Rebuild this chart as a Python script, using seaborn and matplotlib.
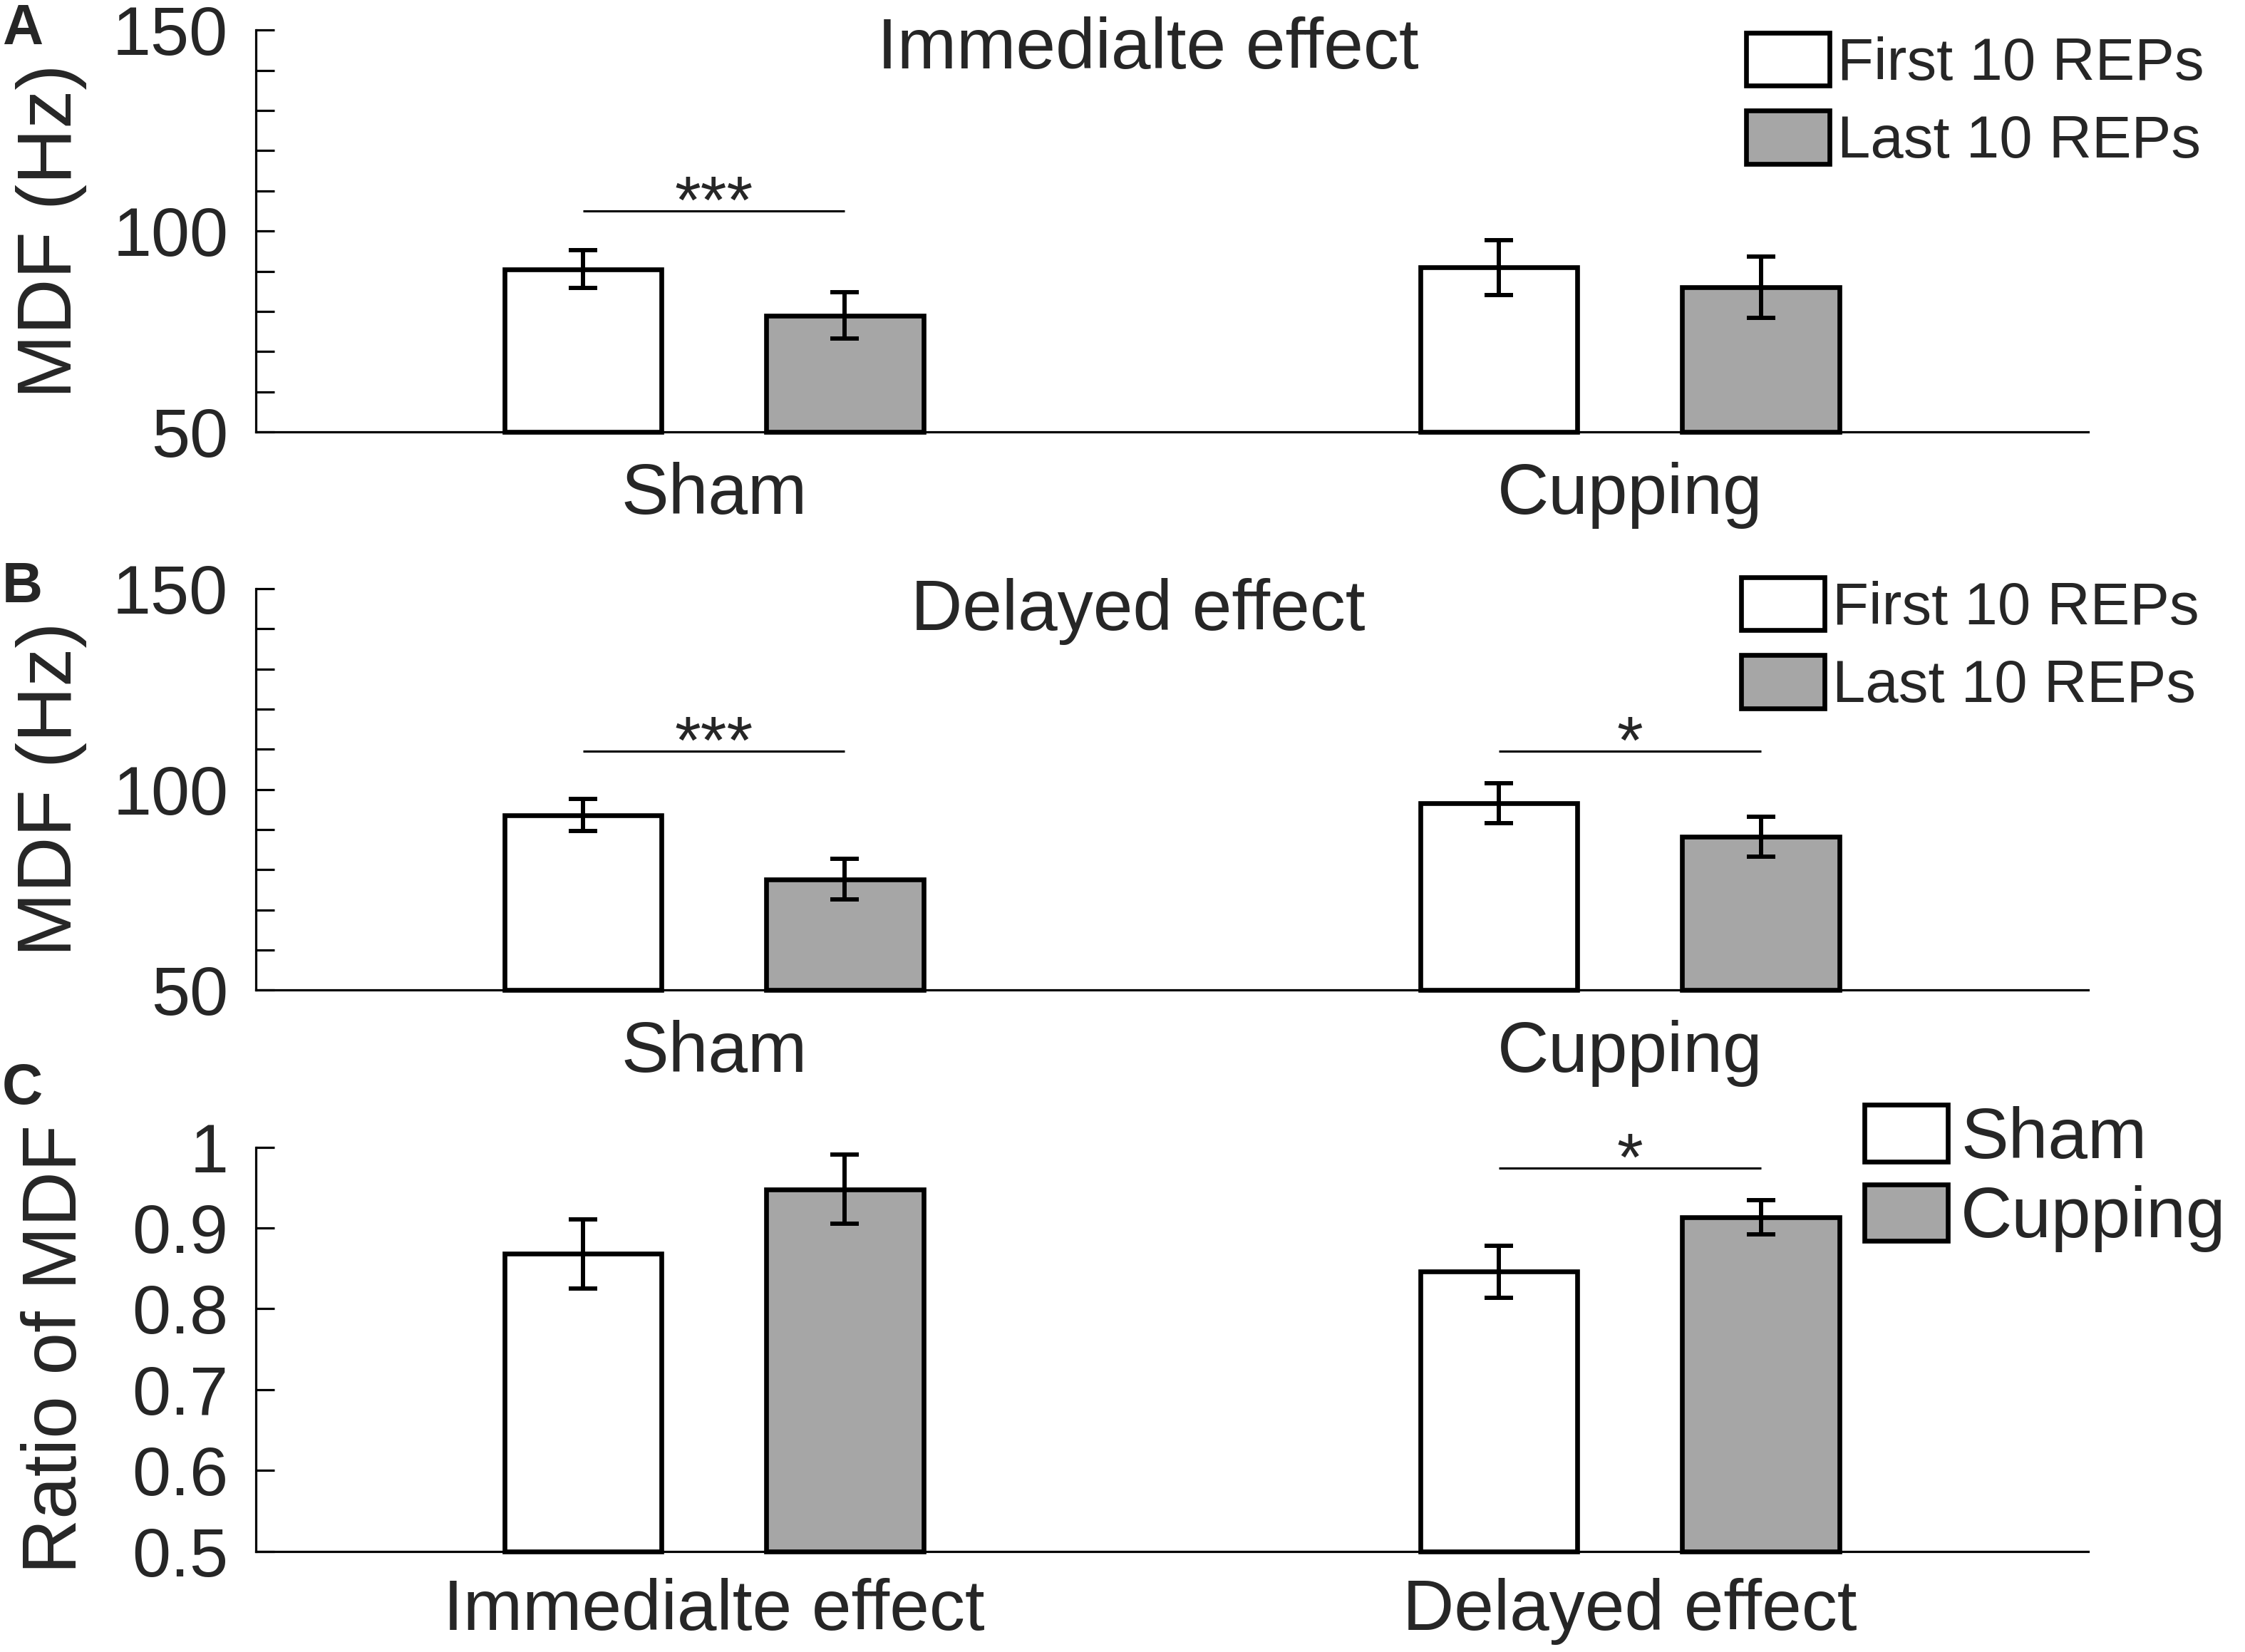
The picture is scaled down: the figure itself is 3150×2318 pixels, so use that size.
import numpy as np
import pandas as pd
import matplotlib
matplotlib.use("Agg")
import matplotlib.pyplot as plt
from matplotlib.ticker import MultipleLocator, FixedLocator
import seaborn as sns

# ---------------- data ----------------
groups_ab = ["Sham", "Cupping"]
conds_ab = ["First 10 REPs", "Last 10 REPs"]

imm_first_mean = [90.5, 90.9]
imm_first_err = [4.7, 6.9]
imm_last_mean = [79.0, 86.0]
imm_last_err = [5.8, 7.6]

del_first_mean = [93.6, 96.5]
del_first_err = [4.0, 5.0]
del_last_mean = [77.6, 88.2]
del_last_err = [5.1, 4.9]

groups_c = ["Immedialte effect", "Delayed effect"]
conds_c = ["Sham", "Cupping"]
ratio_sham_mean = [0.868, 0.846]
ratio_sham_err = [0.043, 0.032]
ratio_cup_mean = [0.948, 0.913]
ratio_cup_err = [0.043, 0.021]

sig_a = [("Sham", 105.0, "***")]
sig_b = [("Sham", 109.5, "***"), ("Cupping", 109.5, "*")]
sig_c = [("Delayed effect", 0.974, "*")]

titles = ["Immedialte effect", "Delayed effect"]
panel_letters = ["A", "B", "C"]

# ---------------- style ----------------
sns.set_theme(style="ticks")
plt.rcParams["font.family"] = ["Liberation Sans", "DejaVu Sans"]

GRAY = "#a6a6a6"
DPI = 100
fig = plt.figure(figsize=(31.5, 23.18), dpi=DPI)

LEFT, WIDTH = 0.114, 0.816
axA = fig.add_axes([LEFT, 0.7386, WIDTH, 0.2431])
axB = fig.add_axes([LEFT, 0.4007, WIDTH, 0.2430])
axC = fig.add_axes([LEFT, 0.0610, WIDTH, 0.2446])


def make_df(groups, conds, m1, e1, m2, e2):
    rows = []
    for g, a, ea in zip(groups, m1, e1):
        rows.append(dict(group=g, cond=conds[0], value=a, err=ea))
    for g, b, eb in zip(groups, m2, e2):
        rows.append(dict(group=g, cond=conds[1], value=b, err=eb))
    return pd.DataFrame(rows)


def draw_panel(ax, df, groups, conds, ybot, ytop, sigs):
    sns.barplot(data=df, x="group", y="value", hue="cond", order=groups,
                hue_order=conds, palette=["white", GRAY], edgecolor="black",
                linewidth=4.8, width=0.572, gap=0.4, errorbar=None,
                saturation=1, ax=ax, legend=False)
    ax.set_ylim(ybot, ytop)
    ax.set_xlim(-0.5, 1.5)
    bar_conts = list(ax.containers)[:len(conds)]
    handles = [c.patches[0] for c in bar_conts]
    centers = {}
    for cond, cont in zip(conds, bar_conts):
        sub = df[df["cond"] == cond].set_index("group").loc[groups]
        xs = []
        for p in cont.patches:
            h = p.get_height()
            p.set_y(ybot)
            p.set_height(h - ybot)
            p.set_clip_on(False)
            xs.append(p.get_x() + p.get_width() / 2)
        centers[cond] = dict(zip(groups, xs))
        ax.errorbar(xs, sub["value"].values, yerr=sub["err"].values, fmt="none",
                    ecolor="black", elinewidth=4.3, capsize=14.5, capthick=4.3,
                    zorder=5)
    for g, y, s in sigs:
        x1 = centers[conds[0]][g]
        x2 = centers[conds[1]][g]
        ax.plot([x1, x2], [y, y], color="black", lw=2.2, solid_capstyle="butt")
        ax.annotate(s, xy=((x1 + x2) / 2, y), xytext=(0, -12),
                    textcoords="offset points", ha="center", va="baseline",
                    fontsize=68, annotation_clip=False)
    sns.despine(ax=ax)
    for sp in ["left", "bottom"]:
        ax.spines[sp].set_linewidth(2.3)
        ax.spines[sp].set_color("black")
    ax.set_xlabel("")
    ax.tick_params(axis="x", length=0, pad=30, labelsize=72)
    ax.tick_params(axis="y", which="both", direction="in", length=18.5,
                   width=2.3, pad=28, labelsize=70, color="black")
    ax.set_facecolor("white")
    return handles


# Panel A
dfA = make_df(groups_ab, conds_ab, imm_first_mean, imm_first_err,
              imm_last_mean, imm_last_err)
hA = draw_panel(axA, dfA, groups_ab, conds_ab, 50, 150, sig_a)
# Panel B
dfB = make_df(groups_ab, conds_ab, del_first_mean, del_first_err,
              del_last_mean, del_last_err)
hB = draw_panel(axB, dfB, groups_ab, conds_ab, 50, 150, sig_b)
# Panel C
dfC = make_df(groups_c, conds_c, ratio_sham_mean, ratio_sham_err,
              ratio_cup_mean, ratio_cup_err)
hC = draw_panel(axC, dfC, groups_c, conds_c, 0.5, 1.0, sig_c)

for ax in (axA, axB):
    ax.yaxis.set_major_locator(FixedLocator([50, 100, 150]))
    ax.yaxis.set_minor_locator(MultipleLocator(10))
    ax.set_ylabel("MDF (Hz)", fontsize=78, va="center")
    ax.yaxis.set_label_coords(-0.1116, 0.5)

axC.set_yticks([0.5, 0.6, 0.7, 0.8, 0.9, 1.0])
axC.set_yticklabels(["0.5", "0.6", "0.7", "0.8", "0.9", "1"])
axC.tick_params(axis="x", pad=27)
axC.set_ylabel("Ratio of MDF", fontsize=77, va="center")
axC.yaxis.set_label_coords(-0.109, 0.5)

# titles
fig.text(0.5115, 0.9584, titles[0], ha="center", va="baseline", fontsize=72)
fig.text(0.507, 0.6186, titles[1], ha="center", va="baseline", fontsize=72)

# panel letters
for letter, yb in zip(panel_letters, [0.9733, 0.6355, 0.3318]):
    fig.text(0.001, yb, letter, ha="left", va="baseline", fontsize=57,
             fontweight="bold")

# legends
leg_kw = dict(loc="upper left", bbox_transform=fig.transFigure, frameon=False,
              borderpad=0, borderaxespad=0)
axA.legend(hA, conds_ab, bbox_to_anchor=(0.7778, 0.9802), fontsize=60,
           handlelength=1.40, handleheight=1.0, handletextpad=0.14,
           labelspacing=0.32, **leg_kw)
axB.legend(hB, conds_ab, bbox_to_anchor=(0.7756, 0.6506), fontsize=60,
           handlelength=1.40, handleheight=1.0, handletextpad=0.14,
           labelspacing=0.32, **leg_kw)
axC.legend(hC, conds_c, bbox_to_anchor=(0.8305, 0.3313), fontsize=72,
           handlelength=1.17, handleheight=0.85, handletextpad=0.18,
           labelspacing=0.16, **leg_kw)

fig.savefig("out.png", dpi=DPI, facecolor="white")
